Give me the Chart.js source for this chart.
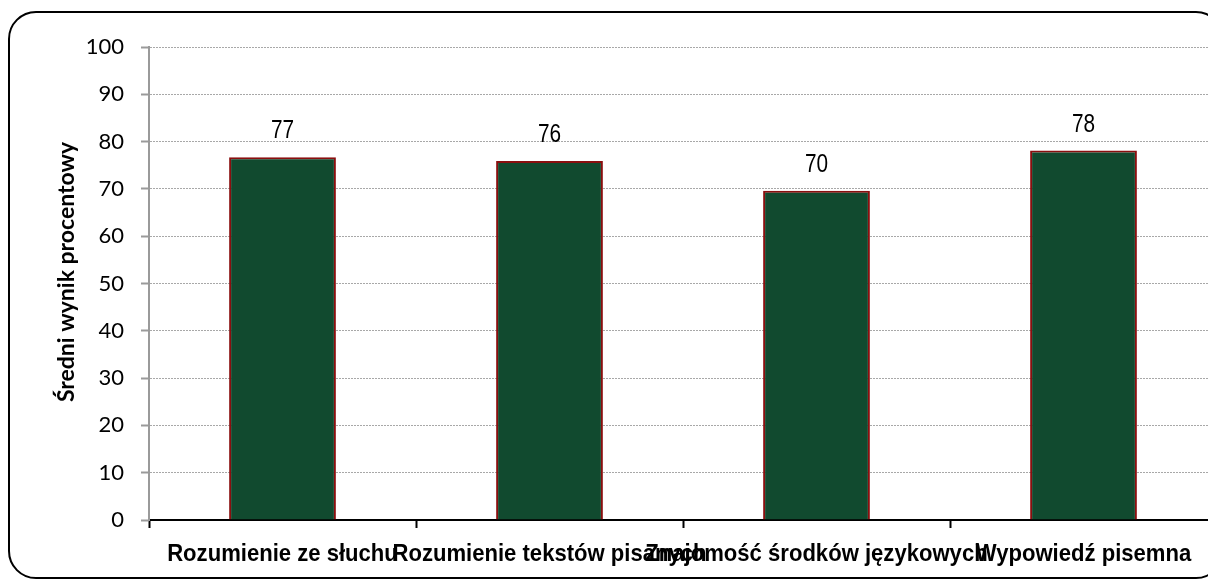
<!DOCTYPE html>
<html>
<head>
<meta charset="utf-8">
<script src="https://cdn.jsdelivr.net/npm/chart.js@4"></script>
<style>
  html, body { margin: 0; padding: 0; background: #fff; overflow: hidden; }
  #wrap { position: relative; width: 1230px; height: 580px; }
</style>
</head>
<body>
<div id="wrap"><canvas id="chart"></canvas></div>
<script>
const categories = ['Rozumienie ze słuchu', 'Rozumienie tekstów pisanych', 'Znajomość środków językowych', 'Wypowiedź pisemna'];
const scores = [76.7, 75.9, 69.6, 78.1];
const yTitle = 'Średni wynik procentowy';

// the original uses a slightly condensed Arial for labels
function narrowText(ctx, text, x, y, squeeze) {
    ctx.save();
    ctx.translate(x, y);
    ctx.scale(squeeze, 1);
    ctx.fillText(text, 0, 0);
    ctx.restore();
}

// rounded frame around the chart (cut off on the right like the original)
const framePlugin = {
    id: 'frame',
    beforeDraw(chart) {
        const ctx = chart.ctx;
        ctx.save();
        ctx.fillStyle = '#fff';
        ctx.fillRect(0, 0, chart.width, chart.height);
        ctx.beginPath();
        ctx.roundRect(9, 12, 1214, 566, 27);
        ctx.lineWidth = 2;
        ctx.strokeStyle = '#000';
        ctx.stroke();
        ctx.restore();
    },
    afterDraw(chart) {
        const ctx = chart.ctx;
        ctx.save();
        ctx.fillStyle = '#000';
        // axis title, placed by hand since it sits a bit above the axis centre
        ctx.save();
        ctx.translate(67, 272);
        ctx.rotate(-Math.PI / 2);
        ctx.font = 'bold 23px Lato, sans-serif';
        ctx.textAlign = 'center';
        ctx.textBaseline = 'middle';
        ctx.fillText(yTitle, 0, 0);
        ctx.restore();
        // category labels
        const xs = chart.scales.x;
        ctx.font = 'bold 24px "Liberation Sans", Arial, sans-serif';
        ctx.textAlign = 'center';
        ctx.textBaseline = 'alphabetic';
        categories.forEach((c, i) => {
            narrowText(ctx, c, xs.getPixelForTick(i), xs.top + 41, 0.92);
        });
        ctx.restore();
    }
};

// value labels above bars
const valueLabels = {
    id: 'valueLabels',
    afterDatasetsDraw(chart) {
        const ctx = chart.ctx;
        const meta = chart.getDatasetMeta(0);
        ctx.save();
        ctx.font = '26px "Liberation Sans", Arial, sans-serif';
        ctx.fillStyle = '#000';
        ctx.textAlign = 'center';
        ctx.textBaseline = 'middle';
        meta.data.forEach((bar, i) => {
            narrowText(ctx, Math.round(scores[i]), bar.x, bar.y - 26, 0.8);
        });
        ctx.restore();
    }
};

const ctx = document.getElementById('chart').getContext('2d');
new Chart(ctx, {
    type: 'bar',
    data: {
        labels: categories,
        datasets: [{
            data: scores,
            backgroundColor: '#114a2f',
            borderColor: '#8a0f0f',
            borderWidth: 2,
            barPercentage: 0.4,
            categoryPercentage: 1
        }]
    },
    options: {
        responsive: true,
        maintainAspectRatio: false,
        animation: false,
        layout: { padding: { left: 0, top: 47, right: 13, bottom: 0 } },
        plugins: {
            legend: { display: false },
            tooltip: { enabled: false }
        },
        scales: {
            x: {
                afterFit: s => { s.height = 60; },
                border: { color: '#000', width: 2 },
                grid: {
                    offset: true,
                    drawOnChartArea: false,
                    tickLength: 8,
                    tickColor: '#000',
                    tickWidth: 2
                },
                ticks: {
                    autoSkip: false,
                    maxRotation: 0,
                    color: 'rgba(0,0,0,0)'
                }
            },
            y: {
                min: 0,
                max: 100,
                afterFit: s => { s.width = 149; },
                border: { color: '#9a9a9a', width: 2, dash: [2, 1] },
                grid: {
                    color: '#a8a8a8',
                    lineWidth: 1,
                    tickLength: 8,
                    tickColor: '#9a9a9a',
                    tickWidth: 2,
                    tickBorderDash: []
                },
                ticks: {
                    stepSize: 10,
                    padding: 17,
                    color: '#000',
                    font: { family: 'Lato, sans-serif', size: 22 }
                }
            }
        }
    },
    plugins: [framePlugin, valueLabels]
});
</script>
</body>
</html>
